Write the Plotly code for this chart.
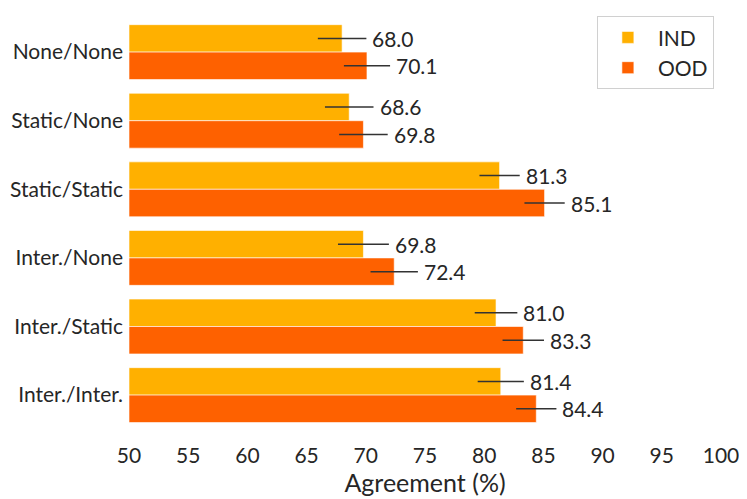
import plotly.graph_objects as go

# categories, top to bottom
settings = ['None/None', 'Static/None', 'Static/Static',
            'Inter./None', 'Inter./Static', 'Inter./Inter.']
ind_vals = [68.0, 68.6, 81.3, 69.8, 81.0, 81.4]
ood_vals = [70.1, 69.8, 85.1, 72.4, 83.3, 84.4]
ind_err = [2.05, 2.05, 1.7, 2.15, 1.8, 1.95]
ood_err = [1.95, 2.05, 1.7, 2.0, 1.75, 1.7]

x_ticks = [50, 55, 60, 65, 70, 75, 80, 85, 90, 95, 100]

TEXT = '#262626'
FONT = 'Lato'
pos = list(range(len(settings)))

fig = go.Figure()

fig.add_trace(go.Bar(
    y=pos, x=[v - 50 for v in ind_vals], base=50, orientation='h', name='IND',
    marker=dict(color='#FFB000', line=dict(color='rgba(255,255,255,0.6)', width=1)),
    error_x=dict(type='data', array=ind_err, color='#333333', thickness=1.5, width=0),
))
fig.add_trace(go.Bar(
    y=pos, x=[v - 50 for v in ood_vals], base=50, orientation='h', name='OOD',
    marker=dict(color='#FE6100', line=dict(color='rgba(255,255,255,0.6)', width=1)),
    error_x=dict(type='data', array=ood_err, color='#333333', thickness=1.5, width=0),
))

# value labels just past the error bars
annotations = []
for i in pos:
    for vals, errs, off in [(ind_vals, ind_err, -0.2), (ood_vals, ood_err, 0.2)]:
        annotations.append(dict(
            x=vals[i] + errs[i], y=i + off, xref='x', yref='y',
            text=f'{vals[i]:.1f}', showarrow=False, xanchor='left', xshift=4,
            font=dict(family=FONT, size=21, color=TEXT),
        ))

# page has an 8px body margin, so the figure is a bit smaller than the window
fig.update_layout(
    width=739, height=491,
    margin=dict(l=121, r=26, t=0, b=58),
    paper_bgcolor='white', plot_bgcolor='white',
    barmode='group', bargap=0.2, bargroupgap=0,
    font=dict(family=FONT, size=21, color=TEXT),
    annotations=annotations,
    legend=dict(
        x=0.988, y=0.981, xanchor='right', yanchor='top',
        bgcolor='white', bordercolor='#d0d0d0', borderwidth=1,
        font=dict(family=FONT, size=21, color=TEXT),
        tracegroupgap=6, itemwidth=50,
    ),
    xaxis=dict(
        range=[50, 100], tickvals=x_ticks, showgrid=False, zeroline=False,
        showline=False, ticks='', automargin=False, ticklabelstandoff=0,
        title=dict(text='Agreement (%)', standoff=0),
        tickfont=dict(family=FONT, size=21, color=TEXT),
    ),
    yaxis=dict(
        range=[5.669, -0.643], tickvals=pos, ticktext=settings, showgrid=False,
        zeroline=False, showline=False, ticks='', automargin=False,
        ticklabelstandoff=5,
        tickfont=dict(family=FONT, size=21, color=TEXT),
    ),
)

fig.write_html('out.html')
